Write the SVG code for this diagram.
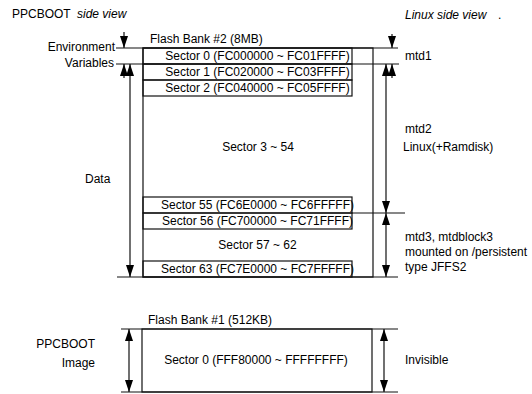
<svg xmlns="http://www.w3.org/2000/svg" width="532" height="394" viewBox="0 0 532 394">
<defs>
<marker id="ah" markerUnits="userSpaceOnUse" markerWidth="12" markerHeight="8" refX="12" refY="4" orient="auto-start-reverse">
<path d="M0,0 L12,4 L0,8 z" fill="#000"/>
</marker>
</defs>
<style>
text{font-family:"Liberation Sans",Arial,sans-serif;font-size:12px;fill:#000}
.c{text-anchor:middle}
.e{text-anchor:end}
.i{font-style:italic}
.box{fill:none;stroke:#111;stroke-width:1.2}
.ln{stroke:#111;stroke-width:1.2;fill:none}
.ar{stroke:#111;stroke-width:1.2;fill:none;marker-end:url(#ah)}
.ar2{stroke:#111;stroke-width:1.2;fill:none;marker-start:url(#ah);marker-end:url(#ah)}
</style>
<rect width="532" height="394" fill="#fff"/>

<g id="titles">
<text x="12" y="18">PPCBOOT</text>
<text x="77" y="18" class="i">side view</text>
<text x="405" y="19" class="i">Linux side view</text>
<text x="498" y="19">.</text>
</g>

<g id="bank2">
<text x="150" y="43">Flash Bank #2 (8MB)</text>
<rect class="box" x="143" y="48" width="230" height="229"/>
</g>
<g id="sector0">
<rect class="box" x="143" y="48" width="209" height="16"/>
<text class="c" x="257.5" y="60">Sector 0 (FC000000 ~ FC01FFFF)</text>
</g>
<g id="sector1">
<rect class="box" x="143" y="64" width="209" height="16"/>
<text class="c" x="257.5" y="76">Sector 1 (FC020000 ~ FC03FFFF)</text>
</g>
<g id="sector2">
<rect class="box" x="143" y="80" width="209" height="16"/>
<text class="c" x="257.5" y="92">Sector 2 (FC040000 ~ FC05FFFF)</text>
</g>
<g id="sector3-54">
<text class="c" x="258" y="151">Sector 3 ~ 54</text>
</g>
<g id="sector55">
<rect class="box" x="143" y="197" width="209" height="16"/>
<text class="c" x="257.5" y="209">Sector 55 (FC6E0000 ~ FC6FFFFF)</text>
</g>
<g id="sector56">
<rect class="box" x="143" y="213" width="209" height="16"/>
<text class="c" x="257.5" y="225">Sector 56 (FC700000 ~ FC71FFFF)</text>
</g>
<g id="sector57-62">
<text class="c" x="257.5" y="249">Sector 57 ~ 62</text>
</g>
<g id="sector63">
<rect class="box" x="143" y="261" width="209" height="16"/>
<text class="c" x="257.5" y="273">Sector 63 (FC7E0000 ~ FC7FFFFF)</text>
</g>

<g id="bank1">
<text x="148" y="324">Flash Bank #1 (512KB)</text>
<rect class="box" x="142" y="329" width="230" height="63"/>
<text class="c" x="256" y="364">Sector 0 (FFF80000 ~ FFFFFFFF)</text>
</g>

<g id="labels-left">
<text class="e" x="115" y="51">Environment</text>
<text class="e" x="114" y="67">Variables</text>
<text x="85" y="183">Data</text>
<text class="e" x="95" y="348">PPCBOOT</text>
<text class="e" x="95" y="367">Image</text>
</g>
<g id="labels-right">
<text x="405" y="60">mtd1</text>
<text x="405" y="133">mtd2</text>
<text x="403" y="151">Linux(+Ramdisk)</text>
<text x="405" y="241">mtd3, mtdblock3</text>
<text x="405" y="256">mounted on /persistent</text>
<text x="405" y="271">type JFFS2</text>
<text x="405" y="364">Invisible</text>
</g>

<g id="connectors">
<line class="ln" x1="116" y1="48" x2="398" y2="48"/>
<line class="ln" x1="116" y1="64" x2="399" y2="64"/>
<line class="ln" x1="352" y1="213" x2="405" y2="213"/>
<line class="ln" x1="117" y1="277" x2="398" y2="277"/>
<line class="ln" x1="121" y1="329" x2="398" y2="329"/>
<line class="ln" x1="121" y1="392" x2="398" y2="392"/>
<line class="ar" x1="124" y1="32" x2="124" y2="48"/>
<line class="ar" x1="124" y1="78" x2="124" y2="64"/>
<line class="ar2" x1="130" y1="64" x2="130" y2="277"/>
<line class="ar" x1="392" y1="34" x2="392" y2="48"/>
<line class="ar" x1="392" y1="78" x2="392" y2="64"/>
<line class="ar2" x1="386" y1="64" x2="386" y2="213"/>
<line class="ar2" x1="386" y1="213" x2="386" y2="277"/>
<line class="ar2" x1="129" y1="329" x2="129" y2="392"/>
<line class="ar2" x1="384" y1="329" x2="384" y2="392"/>
</g>
</svg>
